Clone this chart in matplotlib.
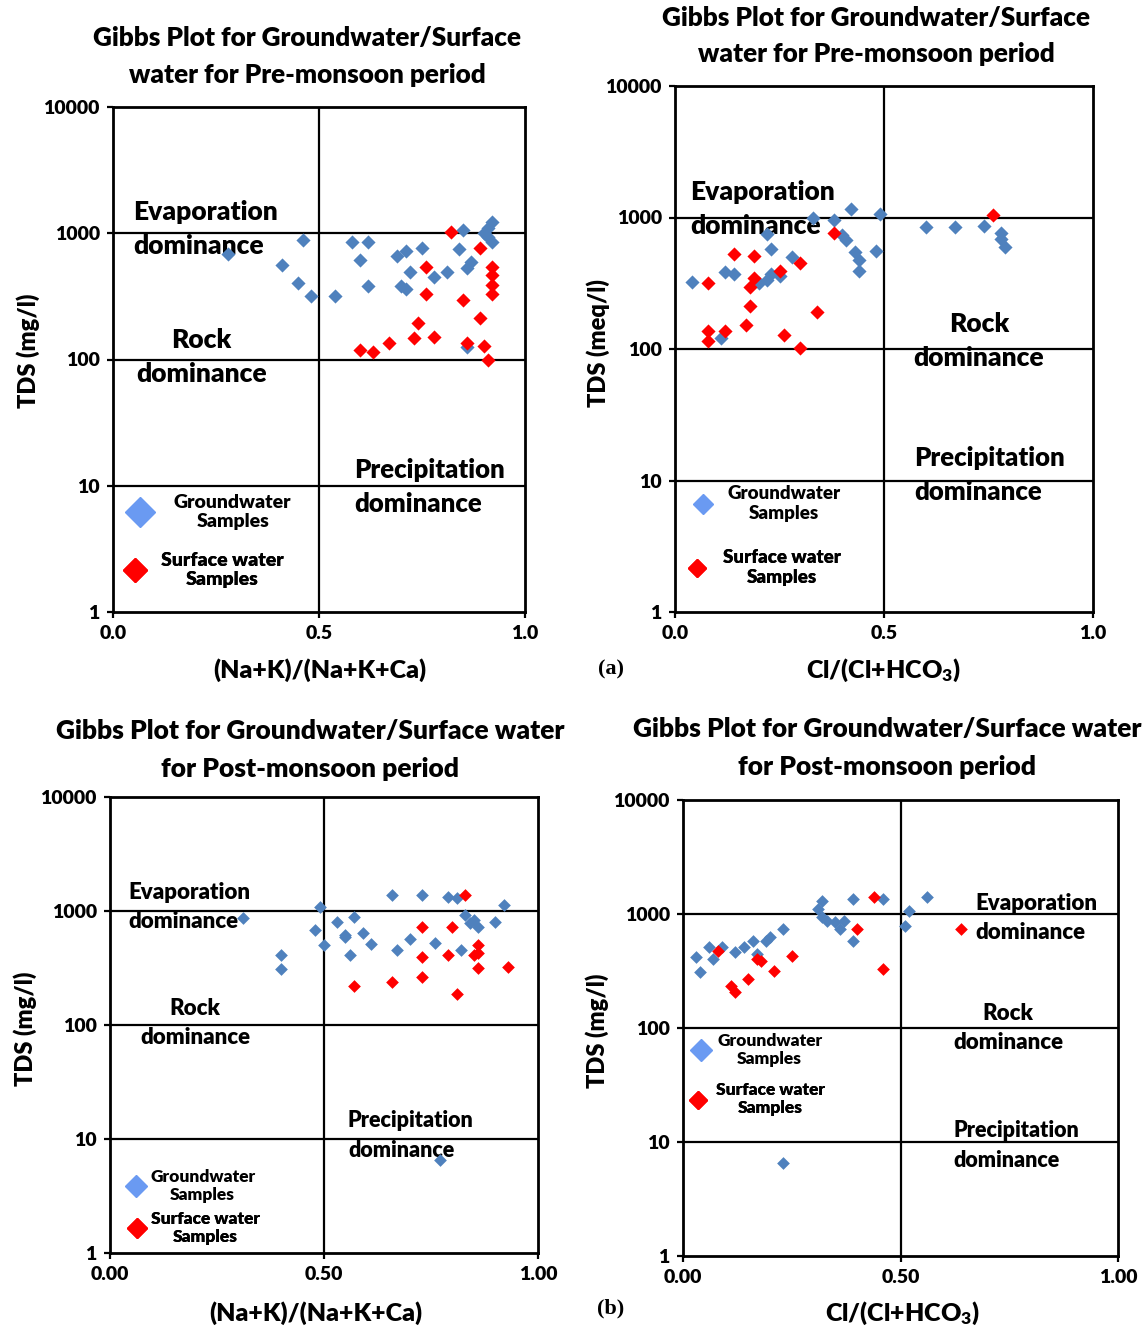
import matplotlib
matplotlib.use("Agg")
import matplotlib.pyplot as plt
from matplotlib.lines import Line2D
from matplotlib.ticker import NullLocator, FixedLocator

WT = 'heavy'
plt.rcParams['font.family'] = ['Lato', 'DejaVu Sans']
plt.rcParams['font.weight'] = WT
plt.rcParams['mathtext.fontset'] = 'custom'
plt.rcParams['mathtext.rm'] = 'Lato:heavy'
plt.rcParams['mathtext.it'] = 'Lato:heavy'
plt.rcParams['mathtext.bf'] = 'Lato:heavy'

# ---------------- data ----------------
# Panel (a) left: (Na+K)/(Na+K+Ca) vs TDS, pre-monsoon
gw1_x = [0.28, 0.46, 0.41, 0.45, 0.48, 0.54, 0.58, 0.62, 0.60, 0.62, 0.69, 0.71, 0.75, 0.72,
         0.70, 0.71, 0.78, 0.81, 0.84, 0.85, 0.87, 0.86, 0.92, 0.91, 0.92, 0.90, 0.91, 0.86]
gw1_y = [690, 880, 560, 400, 320, 320, 860, 860, 610, 380, 660, 720, 770, 490,
         380, 360, 450, 490, 750, 1060, 590, 530, 1220, 930, 850, 1000, 1100, 125]
sw1_x = [0.82, 0.89, 0.76, 0.92, 0.92, 0.92, 0.92, 0.76, 0.85, 0.89, 0.74, 0.73, 0.78,
         0.67, 0.63, 0.60, 0.86, 0.90, 0.91]
sw1_y = [1020, 760, 540, 540, 470, 390, 330, 330, 295, 215, 193, 147, 152,
         134, 114, 118, 136, 127, 100]

# Panel (a) right: Cl/(Cl+HCO3) vs TDS, pre-monsoon
gw2_x = [0.04, 0.12, 0.14, 0.11, 0.22, 0.23, 0.28, 0.22, 0.23, 0.25, 0.20, 0.33, 0.38, 0.42,
         0.49, 0.40, 0.41, 0.43, 0.44, 0.44, 0.48, 0.60, 0.67, 0.74, 0.78, 0.78, 0.79]
gw2_y = [321, 382, 375, 122, 755, 580, 497, 332, 375, 362, 315, 1000, 949, 1170,
         1072, 730, 669, 542, 471, 395, 561, 840, 840, 869, 769, 692, 592]
sw2_x = [0.14, 0.19, 0.08, 0.30, 0.25, 0.18, 0.19, 0.18, 0.17, 0.34, 0.08, 0.12, 0.08,
         0.26, 0.30, 0.38, 0.76]
sw2_y = [532, 514, 315, 447, 395, 294, 344, 214, 151, 190, 138, 138, 116,
         127, 101, 769, 1036]

# Panel (b) left: post-monsoon
gw3_x = [0.31, 0.49, 0.48, 0.50, 0.40, 0.40, 0.53, 0.57, 0.55, 0.55, 0.59, 0.61, 0.56, 0.66,
         0.73, 0.79, 0.81, 0.70, 0.67, 0.76, 0.82, 0.83, 0.84, 0.86, 0.90, 0.92, 0.85, 0.77]
gw3_y = [868, 1084, 681, 504, 411, 310, 801, 885, 615, 592, 641, 514, 411, 1381,
         1381, 1327, 1300, 568, 455, 524, 455, 922, 785, 724, 801, 1129, 834, 6.5]
sw3_x = [0.83, 0.73, 0.80, 0.73, 0.79, 0.86, 0.86, 0.85, 0.86, 0.93, 0.66, 0.73, 0.57, 0.81]
sw3_y = [1381, 724, 724, 395, 411, 504, 429, 411, 316, 323, 238, 264, 220, 187]

# Panel (b) right: post-monsoon
gw4_x = [0.03, 0.04, 0.06, 0.07, 0.09, 0.12, 0.14, 0.16, 0.17, 0.19, 0.20, 0.23, 0.32,
         0.31, 0.32, 0.33, 0.35, 0.36, 0.37, 0.39, 0.39, 0.46, 0.52, 0.51, 0.56, 0.23]
gw4_y = [420, 310, 514, 403, 514, 464, 514, 580, 446, 580, 628, 738, 1300,
         1107, 942, 868, 851, 738, 868, 1355, 580, 1355, 1062, 785, 1408, 6.5]
sw4_x = [0.08, 0.17, 0.18, 0.21, 0.25, 0.15, 0.11, 0.12, 0.44, 0.40, 0.46, 0.64]
sw4_y = [473, 403, 387, 316, 429, 269, 233, 207, 1408, 738, 330, 738]

yticks = [1, 10, 100, 1000, 10000]
yticklabels = ['1', '10', '100', '1000', '10000']
xticks = [0.0, 0.5, 1.0]
xticklabels_a = ['0.0', '0.5', '1.0']
xticklabels_b = ['0.00', '0.50', '1.00']

title_pre = "Gibbs Plot for Groundwater/Surface\nwater for Pre-monsoon period"
title_post = "Gibbs Plot for Groundwater/Surface water\nfor Post-monsoon period"
lab_gw = "Groundwater\nSamples"
lab_sw = "Surface water\nSamples"

BLUE = '#4F81BD'
RED = '#FF0000'
LBLUE = '#6A9AF2'

W, H = 1148, 1330
fig = plt.figure(figsize=(W / 100, H / 100), dpi=100)


def axes_px(l, r, t, b):
    return fig.add_axes([l / W, 1 - b / H, (r - l) / W, (b - t) / H])


def setup(ax, xtl, tick_fs):
    ax.set_xlim(0, 1)
    ax.set_yscale('log')
    ax.set_ylim(1, 10000)
    ax.yaxis.set_major_locator(FixedLocator(yticks))
    ax.yaxis.set_minor_locator(NullLocator())
    ax.set_yticklabels(yticklabels)
    ax.set_xticks(xticks)
    ax.set_xticklabels(xtl)
    ax.tick_params(direction='out', length=4.5, width=1.6, labelsize=tick_fs, pad=5)
    for s in ax.spines.values():
        s.set_linewidth(2.0)
        s.set_color('black')
    ax.axvline(0.5, color='black', lw=1.6, zorder=1)
    for v in [10, 100, 1000]:
        ax.axhline(v, color='black', lw=1.6, zorder=1)


def add_leg(ax, color, ms, label, x, y, fs, hl, pad):
    h = Line2D([], [], marker='D', ls='none', color=color, ms=ms, mec=color)
    leg = ax.legend([h], [label], loc='center left', bbox_to_anchor=(x, y),
                    frameon=False, fontsize=fs, handlelength=hl, handletextpad=pad,
                    borderpad=0, borderaxespad=0)
    for t in leg.get_texts():
        t.set_multialignment('center')
        t.set_linespacing(1.2)
    ax.add_artist(leg)


def region_text(ax, x, y, s, fs, ha='left', ls=1.5):
    ax.text(x, y, s, transform=ax.transAxes, ha=ha, va='center', multialignment=ha,
            fontsize=fs, fontweight=WT, linespacing=ls, zorder=2)


# ---------- Panel 1 ----------
ax1 = axes_px(113, 525, 107, 612)
setup(ax1, xticklabels_a, 14)
ax1.scatter(gw1_x, gw1_y, marker='D', s=52, color=BLUE, zorder=3, linewidths=0)
ax1.scatter(sw1_x, sw1_y, marker='D', s=52, color=RED, zorder=3, linewidths=0)
ax1.text(0.471, 1.100, title_pre, transform=ax1.transAxes, ha='center', va='center',
         fontsize=18.8, fontweight=WT, linespacing=1.62)
region_text(ax1, 0.0485, 0.758, "Evaporation\ndominance", 19)
region_text(ax1, 0.214, 0.505, "Rock\ndominance", 19, ha='center')
region_text(ax1, 0.585, 0.2475, "Precipitation\ndominance", 18.5)
add_leg(ax1, LBLUE, 14.8, lab_gw, 0.030, 0.198, 14, 1.5, 1.0)
add_leg(ax1, RED, 12.2, lab_sw, 0.024, 0.083, 14, 1.25, 0.72)

# ---------- Panel 2 ----------
ax2 = axes_px(675, 1093, 86, 612)
setup(ax2, xticklabels_a, 14)
ax2.scatter(gw2_x, gw2_y, marker='D', s=52, color=BLUE, zorder=3, linewidths=0)
ax2.scatter(sw2_x, sw2_y, marker='D', s=52, color=RED, zorder=3, linewidths=0)
ax2.text(0.481, 1.095, title_pre, transform=ax2.transAxes, ha='center', va='center',
         fontsize=18.8, fontweight=WT, linespacing=1.62)
region_text(ax2, 0.036, 0.766, "Evaporation\ndominance", 19)
region_text(ax2, 0.727, 0.515, "Rock\ndominance", 19, ha='center')
region_text(ax2, 0.572, 0.260, "Precipitation\ndominance", 18.5)
add_leg(ax2, LBLUE, 10.2, lab_gw, 0.043, 0.207, 13.5, 1.05, 0.8)
add_leg(ax2, RED, 9.2, lab_sw, 0.031, 0.084, 13.5, 1.0, 0.85)

# ---------- Panel 3 ----------
ax3 = axes_px(110, 538, 797, 1253)
setup(ax3, xticklabels_b, 14)
ax3.scatter(gw3_x, gw3_y, marker='D', s=42, color=BLUE, zorder=3, linewidths=0)
ax3.scatter(sw3_x, sw3_y, marker='D', s=42, color=RED, zorder=3, linewidths=0)
ax3.text(0.467, 1.103, title_post, transform=ax3.transAxes, ha='center', va='center',
         fontsize=19, fontweight=WT, linespacing=1.7)
region_text(ax3, 0.042, 0.759, "Evaporation\ndominance", 16, ls=1.5)
region_text(ax3, 0.199, 0.504, "Rock\ndominance", 16, ha='center', ls=1.5)
region_text(ax3, 0.556, 0.257, "Precipitation\ndominance", 15.5, ls=1.55)
add_leg(ax3, LBLUE, 11.2, lab_gw, 0.035, 0.147, 12.5, 1.25, 0.2)
add_leg(ax3, RED, 10.2, lab_sw, 0.040, 0.055, 12.5, 1.15, 0.2)

# ---------- Panel 4 ----------
ax4 = axes_px(683, 1118, 800, 1256)
setup(ax4, xticklabels_b, 14)
ax4.scatter(gw4_x, gw4_y, marker='D', s=42, color=BLUE, zorder=3, linewidths=0)
ax4.scatter(sw4_x, sw4_y, marker='D', s=42, color=RED, zorder=3, linewidths=0)
ax4.text(0.469, 1.113, title_post, transform=ax4.transAxes, ha='center', va='center',
         fontsize=19, fontweight=WT, linespacing=1.7)
region_text(ax4, 0.671, 0.741, "Evaporation\ndominance", 16, ls=1.5)
region_text(ax4, 0.747, 0.500, "Rock\ndominance", 16, ha='center', ls=1.5)
region_text(ax4, 0.621, 0.242, "Precipitation\ndominance", 15.5, ls=1.55)
add_leg(ax4, LBLUE, 10.7, lab_gw, 0.017, 0.452, 12.5, 1.2, 0.34)
add_leg(ax4, RED, 8.7, lab_sw, 0.015, 0.344, 12.5, 1.0, 0.5)

# ---------- axis labels ----------
def ftext(px, py, s, **kw):
    fig.text(px / W, 1 - py / H, s, ha='center', va='center', **kw)

ftext(28, 351, "TDS (mg/l)", rotation=90, fontsize=17, fontweight=WT)
ftext(598, 343, "TDS (meq/l)", rotation=90, fontsize=17, fontweight=WT)
ftext(25, 1029, "TDS (mg/l)", rotation=90, fontsize=17, fontweight=WT)
ftext(597, 1031, "TDS (mg/l)", rotation=90, fontsize=17, fontweight=WT)
ftext(320, 670, "(Na+K)/(Na+K+Ca)", fontsize=18, fontweight=WT)
ftext(883, 670, "Cl/(Cl+HCO$_3$)", fontsize=18, fontweight=WT)
ftext(316, 1313, "(Na+K)/(Na+K+Ca)", fontsize=18, fontweight=WT)
ftext(902, 1313, "Cl/(Cl+HCO$_3$)", fontsize=18, fontweight=WT)
ftext(611, 669, "(a)", fontsize=16, family='Liberation Serif', fontweight='bold')
ftext(611, 1308, "(b)", fontsize=16, family='Liberation Serif', fontweight='bold')

fig.savefig("out.png", dpi=100, facecolor='white')
